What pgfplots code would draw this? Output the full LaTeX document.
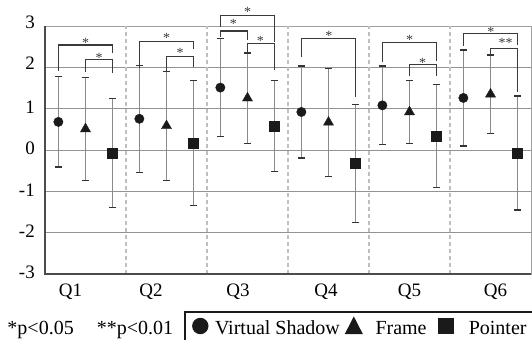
\documentclass[border=0pt]{standalone}
\usepackage{pgfplots}
\pgfplotsset{compat=1.18}
\usepackage{pgfplotstable}
\usepackage{fontspec}
\setmainfont{Liberation Serif}
\definecolor{mk}{HTML}{1A1A1A}
\definecolor{wh}{HTML}{8A8A8A}
\definecolor{brk}{HTML}{3A3A3A}

% x: position, y: mean, e: +- error (SD)
\pgfplotstableread{
x      y      e
-0.335 0.68   1.09
0.665  0.755  1.295
1.665  1.51   1.18
2.665  0.92   1.11
3.665  1.08   0.95
4.665  1.26   1.16
}\circdata
\pgfplotstableread{
x      y      e
0.0    0.51   1.25
1.0    0.585  1.315
2.0    1.255  1.095
3.0    0.67   1.31
4.0    0.92   0.77
5.0    1.35   0.95
}\tridata
\pgfplotstableread{
x      y      e
0.335  -0.075 1.315
1.335  0.17   1.51
2.335  0.585  1.105
3.335  -0.325 1.425
4.335  0.34   1.24
5.335  -0.07  1.38
}\sqdata

\newcommand{\brk}[5]{\draw[brk, line width=1.1bp] (axis cs:#1,#4) -- (axis cs:#1,#3) -- (axis cs:#2,#3) -- (axis cs:#2,#5);}
\newcommand{\sig}[3]{\node[anchor=base, inner sep=0pt, font=\fontsize{14bp}{16bp}\selectfont, text=brk] at (axis cs:#1,#2) {#3};}

\begin{document}
\begin{tikzpicture}[x=1bp,y=1bp]
\path[use as bounding box] (0,0) rectangle (532,339);
\begin{axis}[
  at={(45bp,65bp)}, anchor=south west,
  scale only axis, width=486bp, height=248bp,
  xmin=-0.5, xmax=5.5, ymin=-3, ymax=3,
  clip=false,
  axis line style={gray!75, line width=1bp},
  major tick length=0pt,
  xtick={-0.185,0.809,1.883,2.969,4.0,5.062},
  xticklabels={Q1,Q2,Q3,Q4,Q5,Q6},
  ytick={-3,-2,-1,0,1,2,3},
  yticklabels={-3,-2,-1,0,1,\raisebox{5bp}{2},\raisebox{4.5bp}{3}},
  xticklabel style={font=\fontsize{19bp}{22bp}\selectfont, anchor=north, inner sep=0pt, yshift=-10bp},
  yticklabel style={font=\fontsize{19bp}{22bp}\selectfont, anchor=east, inner sep=0pt, xshift=-10bp, yshift=1.5bp},
  ymajorgrids=true,
  major grid style={gray!85, line width=0.8bp},
  extra x ticks={0.5,1.5,2.5,3.5,4.5},
  extra x tick labels={},
  extra x tick style={xmajorgrids=true, major grid style={gray!50, line width=1.1bp, dash pattern=on 4bp off 3bp}},
  legend columns=3,
  legend cell align=left,
  legend style={at={(axis description cs:0.28807,-0.16129)}, anchor=north west,
    draw=none, fill=none, inner sep=0pt, outer sep=0pt, column sep=0pt,
    font=\fontsize{20bp}{24bp}\selectfont,
    nodes={anchor=base west, inner sep=0pt}},
]
\addplot[forget plot, only marks, mark=*, mark size=4.7bp, mk, mark options={fill=mk, draw=mk},
  error bars/.cd, y dir=both, y explicit,
  error bar style={line width=0.9bp, wh},
  error mark options={rotate=90, mark size=3.7bp, line width=1.3bp, black!80}]
  table[x=x, y=y, y error=e] {\circdata};
\addplot[forget plot, only marks, mark=triangle*, mark size=5.8bp, mk, mark options={fill=mk, draw=mk},
  error bars/.cd, y dir=both, y explicit,
  error bar style={line width=0.9bp, wh},
  error mark options={rotate=90, mark size=3.7bp, line width=1.3bp, black!80}]
  table[x=x, y=y, y error=e] {\tridata};
\addplot[forget plot, only marks, mark=square*, mark size=5bp, mk, mark options={fill=mk, draw=mk},
  error bars/.cd, y dir=both, y explicit,
  error bar style={line width=0.9bp, wh},
  error mark options={rotate=90, mark size=3.7bp, line width=1.3bp, black!80}]
  table[x=x, y=y, y error=e] {\sqdata};

\addlegendimage{legend image code/.code={\path[draw=none, fill=none] (0bp,-3bp) rectangle (30bp,20bp); \fill[mk, draw=none] (15.3bp,8bp) circle (8.2bp);}}
\addlegendentry{Virtual Shadow}
\addlegendimage{legend image code/.code={\path[draw=none, fill=none] (0bp,-3bp) rectangle (35.6bp,20bp); \fill[mk, draw=none] (4.9bp,0bp) -- (22.9bp,0bp) -- (13.9bp,17.6bp) -- cycle;}}
\addlegendentry{Frame}
\addlegendimage{legend image code/.code={\path[draw=none, fill=none] (0bp,-3bp) rectangle (42.2bp,20bp); \fill[mk, draw=none] (11.2bp,0bp) rectangle (27.8bp,16bp);}}
\addlegendentry{Pointer}

% thicker left and bottom axis lines
\draw[line width=1.8bp, black!70] (rel axis cs:0,1) -- (rel axis cs:0,0) -- (rel axis cs:1,0);

% significance brackets
\brk{-0.335}{0.335}{2.54}{1.92}{2.34}
\brk{0.0}{0.335}{2.18}{1.89}{1.87}
\sig{0.0}{2.486}{*}
\sig{0.167}{2.105}{*}

\brk{0.665}{1.335}{2.62}{1.98}{2.44}
\brk{1.0}{1.335}{2.27}{1.90}{2.02}
\sig{1.0}{2.613}{*}
\sig{1.167}{2.226}{*}

\brk{1.665}{2.335}{3.25}{2.98}{2.61}
\brk{1.665}{2.0}{2.88}{2.73}{2.66}
\brk{2.0}{2.335}{2.58}{2.38}{1.94}
\sig{2.0}{3.218}{*}
\sig{1.825}{2.928}{*}
\sig{2.158}{2.533}{*}

\brk{2.665}{3.335}{2.69}{2.26}{1.29}
\sig{3.006}{2.654}{*}

\brk{3.665}{4.335}{2.60}{2.14}{2.15}
\brk{4.0}{4.335}{2.06}{1.79}{1.79}
\sig{4.002}{2.557}{*}
\sig{4.163}{2.008}{*}

\brk{4.665}{5.335}{2.81}{2.52}{2.54}
\brk{5.0}{5.335}{2.46}{2.30}{1.41}
\sig{5.006}{2.758}{*}
\sig{5.188}{2.475}{**}
\end{axis}
% legend box and significance note
\draw[line width=1.6bp, mk] (184.7,-10) -- (184.7,27) -- (545,27);
\node[anchor=base west, inner sep=0pt, font=\fontsize{20bp}{24bp}\selectfont] at (7.3,5) {*p<0.05};
\node[anchor=base west, inner sep=0pt, font=\fontsize{20bp}{24bp}\selectfont] at (96.7,5) {**p<0.01};
\end{tikzpicture}
\end{document}
